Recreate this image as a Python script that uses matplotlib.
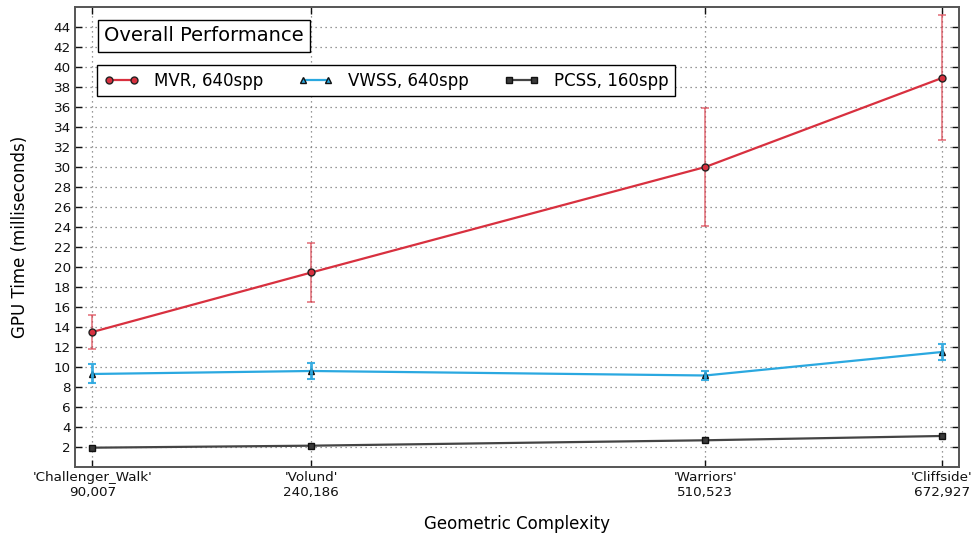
import matplotlib
matplotlib.use("Agg")
import matplotlib.pyplot as plt

# Scenes and their triangle counts
scenes = ["Challenger_Walk", "Volund", "Warriors", "Cliffside"]
triangles = [90007, 240186, 510523, 672927]

# GPU time in milliseconds (mean and error)
mvr_ms = [13.5, 19.45, 30.0, 38.9]
mvr_err = [1.72, 2.94, 5.9, 6.25]
vwss_ms = [9.3, 9.6, 9.15, 11.5]
vwss_err = [0.95, 0.8, 0.42, 0.8]
pcss_ms = [1.93, 2.13, 2.67, 3.1]

y_ticks = list(range(2, 46, 2))

plt.rcParams["font.family"] = "DejaVu Sans"

fig = plt.figure(figsize=(9.76, 5.38), dpi=100)
ax = fig.add_axes([0.0768, 0.132, 0.9058, 0.855])

red = "#d8303f"
blue = "#2aa8e0"
gray = "#444444"

ax.errorbar(triangles, mvr_ms, yerr=mvr_err, fmt="none", ecolor=red,
            alpha=0.65, elinewidth=1.2, capsize=3, capthick=1.2, zorder=3)
ax.plot(triangles, mvr_ms, color=red, lw=1.6, marker="o", markersize=5,
        markerfacecolor=red, markeredgecolor="#222222", markeredgewidth=1,
        label="MVR, 640spp", zorder=4)

ax.plot(triangles, vwss_ms, color=blue, lw=1.6, marker="^", markersize=5,
        markerfacecolor=blue, markeredgecolor="#111111", markeredgewidth=1,
        label="VWSS, 640spp", zorder=4)
ax.errorbar(triangles, vwss_ms, yerr=vwss_err, fmt="none", ecolor=blue,
            alpha=0.9, elinewidth=2, capsize=3, capthick=1.5, zorder=5)

ax.plot(triangles, pcss_ms, color=gray, lw=1.6, marker="s", markersize=5,
        markerfacecolor="#3a3a3a", markeredgecolor="#111111", markeredgewidth=1,
        label="PCSS, 160spp", zorder=4)

ax.set_xlim(78000, 684600)
ax.set_ylim(0, 46)
ax.set_xticks(triangles)
ax.set_xticklabels([f"'{s}'\n{n:,}" for s, n in zip(scenes, triangles)])
ax.set_yticks(y_ticks)

ax.tick_params(axis="both", direction="in", length=5, width=1,
               top=True, right=True, labelsize=9.7, colors="#111111")
ax.tick_params(axis="x", pad=3)
ax.tick_params(axis="y", pad=3)
for sp in ax.spines.values():
    sp.set_color("#555555")
    sp.set_linewidth(1.4)

ax.grid(True, linestyle=(0, (1, 3)), color="#777777", linewidth=0.9)
ax.set_axisbelow(True)

ax.set_xlabel("Geometric Complexity", fontsize=12)
ax.set_ylabel("GPU Time (milliseconds)", fontsize=12)
ax.xaxis.set_label_coords(0.5, -0.105)
ax.yaxis.set_label_coords(-0.052, 0.5)

ax.text(0.0328, 0.958, "Overall Performance", transform=ax.transAxes,
        fontsize=14, ha="left", va="top", zorder=10,
        bbox=dict(boxstyle="square,pad=0.33", fc="white", ec="black", lw=1))

leg = ax.legend(loc="upper left", bbox_to_anchor=(0.025, 0.874),
                borderaxespad=0, ncol=3, fancybox=False, framealpha=1,
                edgecolor="black", numpoints=2, fontsize=12,
                handlelength=2.1, handletextpad=0.9, columnspacing=2.1)
leg.get_frame().set_linewidth(1)
leg.set_zorder(10)

fig.savefig("out.png", dpi=100)
